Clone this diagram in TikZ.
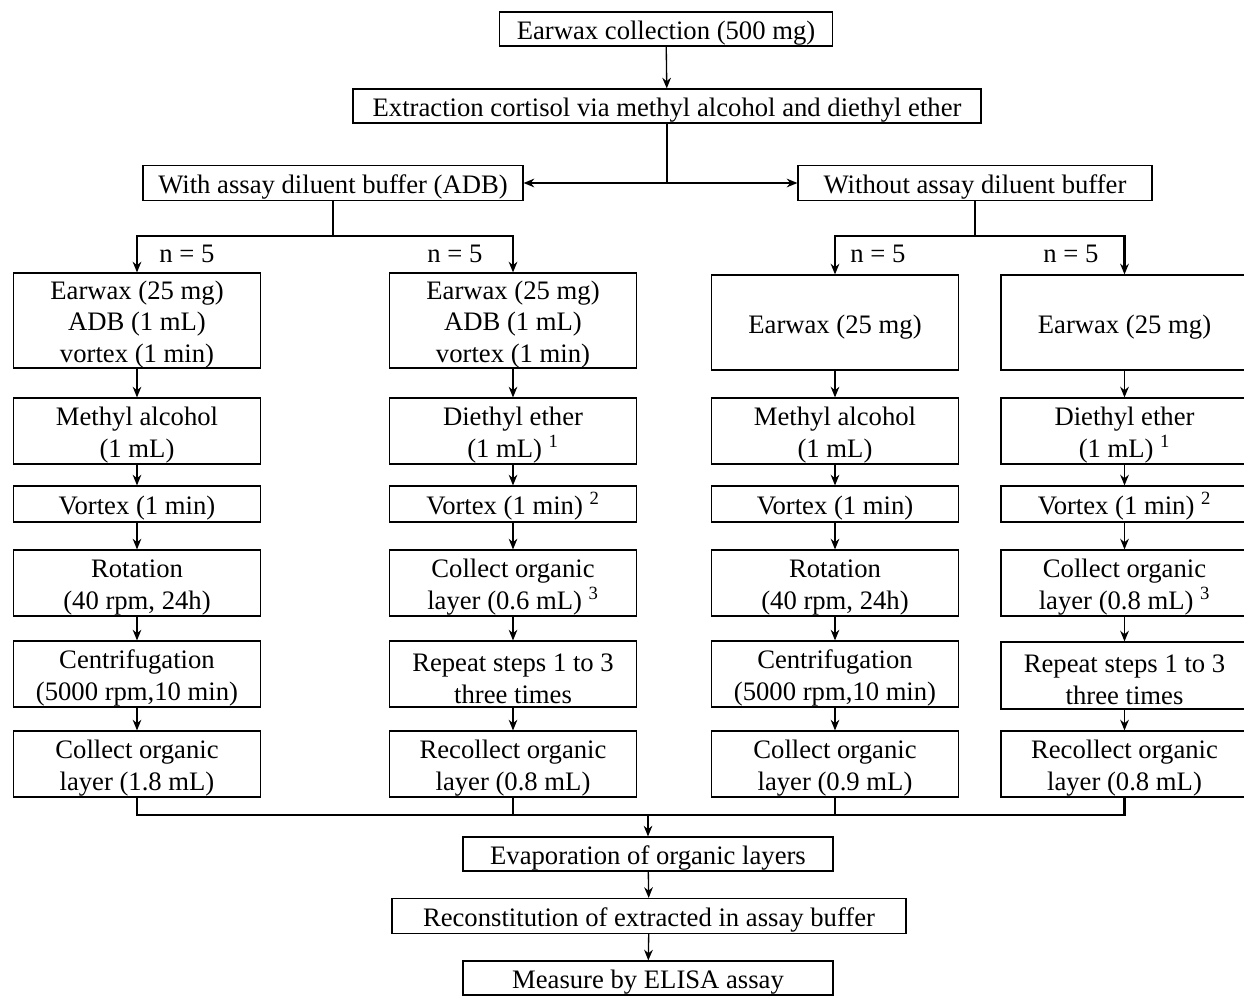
\documentclass[tikz,border=0pt]{standalone}
\usepackage{fontspec}
\setmainfont{Liberation Serif}
\usetikzlibrary{arrows.meta}
\newcommand\fstrut{\rule{0pt}{20pt}}
\begin{document}
\begin{tikzpicture}[x=0.75pt,y=-0.75pt,
  font=\fontsize{20}{23.8}\selectfont,
  box/.style={draw,line width=0.9pt,inner sep=0pt,align=center,minimum height=#1,
    execute at begin node={\rule{0pt}{20.5pt}}},
  box/.default=25.5pt,
  colbox/.style={box=#1,minimum width=185.25pt},
  arr/.style={line width=1pt,-{Stealth[length=8pt,width=6.5pt]}},
  thick line/.style={line width=1.8pt},
  lab/.style={inner sep=0pt}]
\useasboundingbox (0,0) rectangle (1244,995);
\clip (0,0) rectangle (1244,995);
\fill[white] (0,0) rectangle (1244,995);

% top
\node[box,minimum width=249.75pt] (top) at (666,29) {Earwax collection (500 mg)};
\node[box,minimum width=471pt] (ext) at (667,106) {Extraction cortisol via methyl alcohol and diethyl ether};
\node[box=26.25pt,minimum width=285pt] (adb) at (333,183) {With assay diluent buffer (ADB)};
\node[box=26.25pt,minimum width=265.5pt] (noadb) at (975,183) {Without assay diluent buffer};

% column 1
\node[colbox=71.25pt,font=\fontsize{20}{23.3}\selectfont] (a1) at (137,320.5) {\fstrut Earwax (25 mg)\\ADB (1 mL)\\vortex (1 min)};
\node[colbox=49.5pt] (a2) at (137,431) {\fstrut Methyl alcohol\\(1 mL)};
\node[colbox=27pt] (a3) at (137,504) {Vortex (1 min)};
\node[colbox=49.5pt] (a4) at (137,583) {\fstrut Rotation\\(40 rpm, 24h)};
\node[colbox=49.5pt] (a5) at (137,674) {\fstrut Centrifugation\\(5000 rpm,10 min)};
\node[colbox=49.5pt] (a6) at (137,764) {\fstrut Collect organic\\layer (1.8 mL)};

% column 2
\node[colbox=71.25pt,font=\fontsize{20}{23.3}\selectfont] (b1) at (513,320.5) {\fstrut Earwax (25 mg)\\ADB (1 mL)\\vortex (1 min)};
\node[colbox=49.5pt] (b2) at (513,431) {\fstrut Diethyl ether\\(1 mL) \textsuperscript{1}};
\node[colbox=27pt] (b3) at (513,504) {Vortex (1 min) \textsuperscript{2}};
\node[colbox=49.5pt] (b4) at (513,583) {\fstrut Collect organic\\layer (0.6 mL) \textsuperscript{3}};
\node[colbox=49.5pt] (b5) at (513,674) {\fstrut Repeat steps 1 to 3\\three times};
\node[colbox=49.5pt] (b6) at (513,764) {\fstrut Recollect organic\\layer (0.8 mL)};

% column 3
\node[colbox=71.25pt] (c1) at (835,322.5) {Earwax (25 mg)};
\node[colbox=49.5pt] (c2) at (835,431) {\fstrut Methyl alcohol\\(1 mL)};
\node[colbox=27pt] (c3) at (835,504) {Vortex (1 min)};
\node[colbox=49.5pt] (c4) at (835,583) {\fstrut Rotation\\(40 rpm, 24h)};
\node[colbox=49.5pt] (c5) at (835,674) {\fstrut Centrifugation\\(5000 rpm,10 min)};
\node[colbox=49.5pt] (c6) at (835,764) {\fstrut Collect organic\\layer (0.9 mL)};

% column 4
\node[colbox=71.25pt] (d1) at (1124.5,322.5) {Earwax (25 mg)};
\node[colbox=49.5pt] (d2) at (1124.5,431) {\fstrut Diethyl ether\\(1 mL) \textsuperscript{1}};
\node[colbox=27pt] (d3) at (1124.5,504) {Vortex (1 min) \textsuperscript{2}};
\node[colbox=49.5pt] (d4) at (1124.5,583) {\fstrut Collect organic\\layer (0.8 mL) \textsuperscript{3}};
\node[colbox=50.25pt] (d5) at (1124.5,675.5) {\fstrut Repeat steps 1 to 3\\three times};
\node[colbox=49.5pt] (d6) at (1124.5,764) {\fstrut Recollect organic\\layer (0.8 mL)};

% bottom
\node[box,minimum width=277.5pt] (evap) at (648,854) {Evaporation of organic layers};
\node[box=26.25pt,minimum width=385.5pt] (recon) at (649,916) {Reconstitution of extracted in assay buffer};
\node[box,minimum width=277.5pt] (elisa) at (648,978) {Measure by ELISA assay};

% labels
\node[lab] (n1) at (187,254) {n = 5};
\node[lab] (n2) at (455,254) {n = 5};
\node[lab] (n3) at (878,254) {n = 5};
\node[lab] (n4) at (1071,254) {n = 5};

% coordinates
\coordinate (split) at (667,183);
\coordinate (ladb) at (333,236);
\coordinate (lnoadb) at (975,236);
\coordinate (merge) at (648,815);

% top connectors
\draw[arr] (top) -- (ext);
\draw[thick line] (ext.south) -- (split);
\draw[arr,line width=1.5pt] (split) -- (adb.east);
\draw[arr,line width=1.5pt] (split) -- (noadb.west);

% branching
\draw[thick line] (adb.south) -- (ladb);
\draw[thick line] (noadb.south) -- (lnoadb);
\draw[thick line,-{Stealth[length=8pt,width=6.5pt]}] (ladb) -| (a1.north);
\draw[thick line,-{Stealth[length=8pt,width=6.5pt]}] (ladb) -| (b1.north);
\draw[thick line,-{Stealth[length=8pt,width=6.5pt]}] (lnoadb) -| (c1.north);
\draw[thick line,-{Stealth[length=8pt,width=6.5pt]}] (lnoadb) -| (d1.north);

% column arrows
\foreach \c in {a,b,c,d}{
  \draw[arr] (\c1) -- (\c2);
  \draw[arr] (\c2) -- (\c3);
  \draw[arr] (\c3) -- (\c4);
  \draw[arr] (\c4) -- (\c5);
  \draw[arr] (\c5) -- (\c6);
}

% merging
\draw[thick line] (a6.south) |- (merge);
\draw[thick line] (d6.south) |- (merge);
\draw[thick line] (b6.south) -- (b6.south |- merge);
\draw[thick line] (c6.south) -- (c6.south |- merge);
\draw[arr] (merge) -- (evap);
\draw[arr] (evap) -- (recon);
\draw[arr] (recon) -- (elisa);
\end{tikzpicture}
\end{document}
